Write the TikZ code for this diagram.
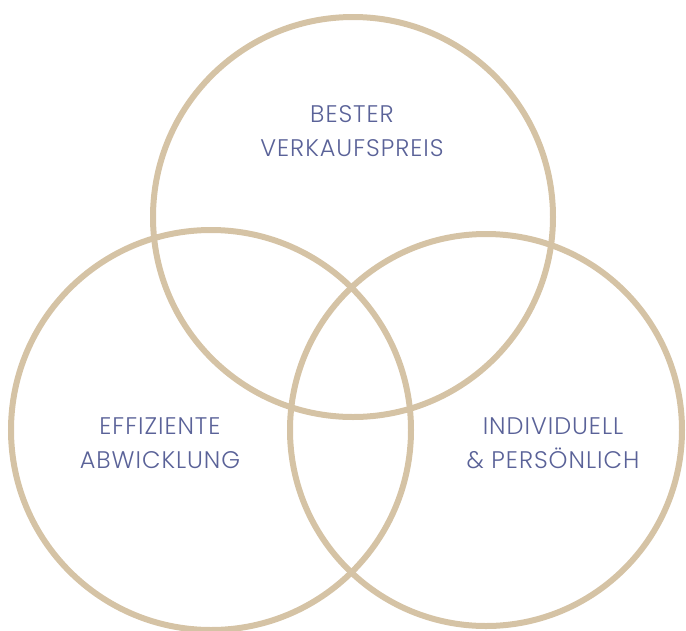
\documentclass[tikz,border=0pt]{standalone}
\usepackage{fontspec}
\setmainfont{Poppins Light}[LetterSpace=4]
\definecolor{ringtan}{HTML}{D5C3A5}
\definecolor{labelblue}{HTML}{5A6298}
\tikzset{
  ringline/.style={draw=ringtan, line width=6pt},
  tag/.style={text=labelblue, align=center, inner sep=0pt,
    font=\fontsize{24}{34}\selectfont}
}

\begin{document}
\begin{tikzpicture}[x=1pt, y=-1pt]
  \useasboundingbox (0,0) rectangle (686,630);

  % Rings
  \draw[ringline] (353,217) circle (200pt);
  \draw[ringline] (211,430) circle (200pt);
  \draw[ringline] (486,430) circle (196pt);

  % Labels
  \node[tag] (price) at (352,131) {BESTER\\VERKAUFSPREIS};
  \node[tag] (flow) at (160,443) {EFFIZIENTE\\ABWICKLUNG};
  \node[tag] (personal) at (553,443) {INDIVIDUELL\\\& PERSÖNLICH};
\end{tikzpicture}
\end{document}
